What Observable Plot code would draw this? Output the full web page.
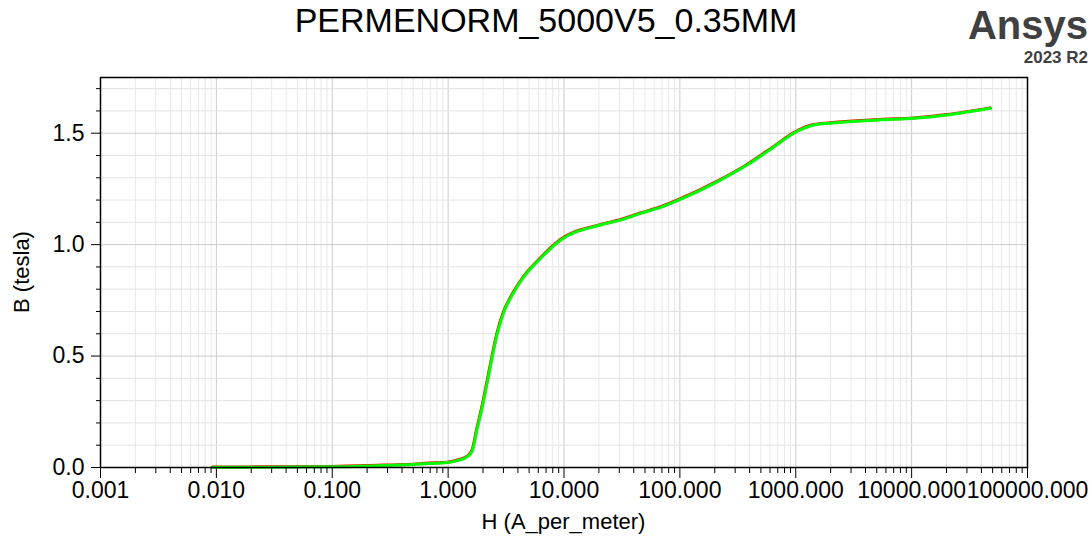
<!DOCTYPE html>
<html>
<head>
<meta charset="utf-8">
<script src="https://cdn.jsdelivr.net/npm/d3@7"></script>
<script src="https://cdn.jsdelivr.net/npm/@observablehq/plot@0.6"></script>
<style>
  body { margin: 0; background: white; }
  #wrap { position: relative; width: 1092px; height: 537px; font-family: "Liberation Sans", Arial, sans-serif; }
  .t { position: absolute; line-height: 1; white-space: nowrap; }
</style>
</head>
<body>
<div id="wrap">
  <div class="t" id="title" style="left:0; width:1092px; text-align:center; top:3px; font-size:34px; color:#000;">PERMENORM_5000V5_0.35MM</div>
  <div class="t" style="right:4px; top:7px; font-size:40px; line-height:0.9; font-weight:bold; color:#404040;">Ansys</div>
  <div class="t" style="right:4px; top:49px; font-size:17px; font-weight:bold; color:#404040;">2023 R2</div>
  <div class="t" style="left:0; width:1127px; text-align:center; top:511px; font-size:22px; color:#000;">H (A_per_meter)</div>
  <div class="t" style="left:22px; top:272px; font-size:22px; color:#000; transform:translate(-50%,-50%) rotate(-90deg);">B (tesla)</div>
</div>
<script>
// Data (H in A/m, B in tesla)
const H = [0.0093, 0.02, 0.05, 0.1, 0.277, 0.50, 0.68, 0.99, 1.20, 1.47, 1.62, 1.78, 1.97, 2.17, 2.40, 2.65, 3.03, 3.57, 4.50, 6.27, 9.33, 20.7, 30.7, 45.7, 68, 101, 210, 380, 647, 962, 1432, 1995, 5380, 10440, 20270, 48000];
const B = [0.001, 0.001, 0.002, 0.003, 0.009, 0.013, 0.018, 0.022, 0.031, 0.049, 0.076, 0.172, 0.270, 0.378, 0.494, 0.598, 0.698, 0.773, 0.855, 0.938, 1.020, 1.088, 1.110, 1.140, 1.167, 1.203, 1.282, 1.357, 1.438, 1.500, 1.537, 1.545, 1.560, 1.567, 1.582, 1.612];

const xMajorTicks = [0.001, 0.01, 0.1, 1, 10, 100, 1000, 10000, 100000];
const yMajorTicks = [0, 0.5, 1.0, 1.5];
const yMinorTicks = [0.1, 0.2, 0.3, 0.4, 0.6, 0.7, 0.8, 0.9, 1.1, 1.2, 1.3, 1.4, 1.6, 1.7];
const xMinorTicks = [];
for (const d of xMajorTicks.slice(0, -1)) for (let k = 2; k <= 9; k++) xMinorTicks.push(+(k * d).toPrecision(3));

const data = H.map((h, i) => ({H: h, B: B[i]}));

const chart = Plot.plot({
  width: 1092,
  height: 537,
  marginLeft: 100,
  marginRight: 65,
  marginTop: 77,
  marginBottom: 70,
  style: {fontFamily: "'Liberation Sans', Arial, sans-serif", fontSize: "23px", color: "#000", background: "transparent"},
  x: {type: "log", domain: [0.001, 100000]},
  y: {domain: [0, 1.75]},
  marks: [
    Plot.gridX(xMinorTicks, {stroke: "#e8e8e8", strokeOpacity: 1}),
    Plot.gridX(xMajorTicks, {stroke: "#cccccc", strokeOpacity: 1}),
    Plot.gridY(yMinorTicks, {stroke: "#e4e4e4", strokeOpacity: 1}),
    Plot.gridY(yMajorTicks, {stroke: "#cccccc", strokeOpacity: 1}),
    Plot.line(data, {x: "H", y: "B", stroke: "#ff0000", strokeWidth: 3, dx: -0.4, dy: -0.4, curve: "monotone-x"}),
    Plot.line(data, {x: "H", y: "B", stroke: "#00ff00", strokeWidth: 3, curve: "monotone-x"}),
    Plot.frame({stroke: "#000", strokeWidth: 1.5}),
    Plot.axisX(xMajorTicks, {tickSize: 11, tickPadding: 3, tickFormat: d => d.toFixed(3), label: null, stroke: "#000"}),
    Plot.axisX(xMinorTicks, {tickSize: 6, tickFormat: () => "", label: null, stroke: "#000"}),
    Plot.axisY(yMajorTicks, {tickSize: 9, tickPadding: 7, tickFormat: d => d.toFixed(1), label: null, stroke: "#000"}),
    Plot.axisY(yMinorTicks, {tickSize: 4, tickFormat: () => "", label: null, stroke: "#000"})
  ]
});
chart.style.position = "absolute";
chart.style.left = "0";
chart.style.top = "0";
const wrap = document.getElementById("wrap");
wrap.insertBefore(chart, wrap.firstChild);
</script>
</body>
</html>
